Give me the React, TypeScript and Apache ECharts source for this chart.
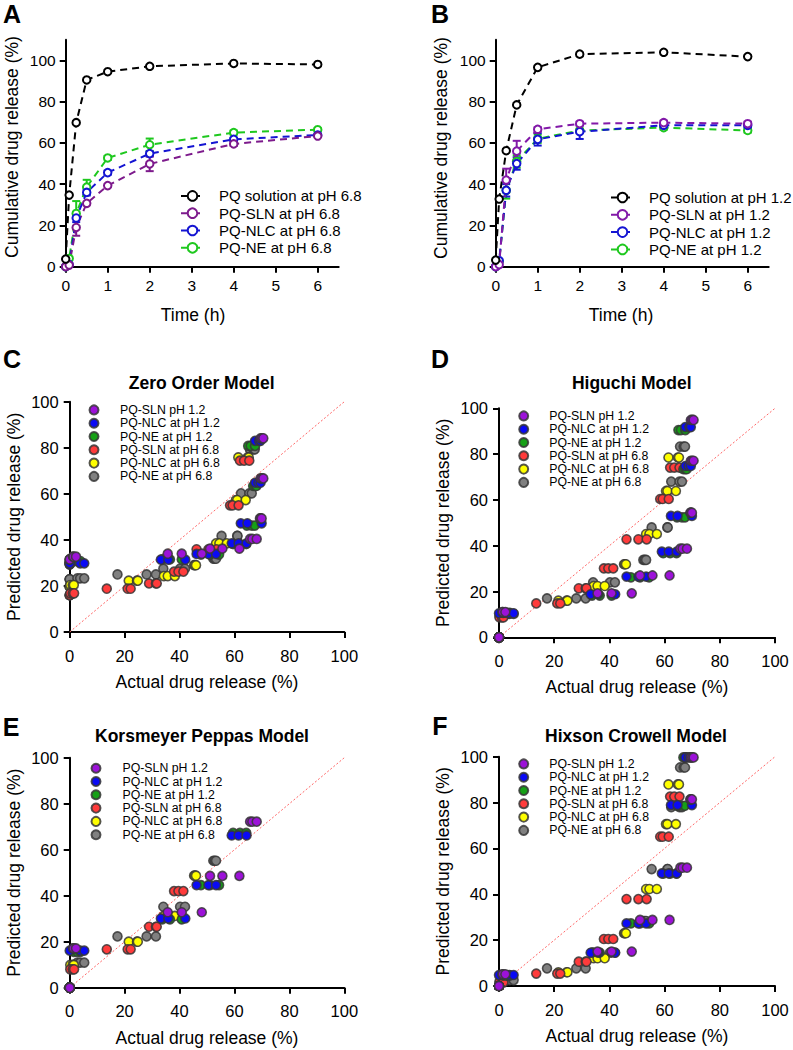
import React, { useEffect, useRef } from 'react';
import * as echarts from 'echarts';

const FONT = 'Liberation Sans, Arial, Helvetica, sans-serif';

// ---------- Panels A & B: cumulative release vs time ----------
const timeH = [0, 0.083, 0.25, 0.5, 1, 2, 4, 6];
const timeTicks = [0, 1, 2, 3, 4, 5, 6];
const releaseTicks = [0, 20, 40, 60, 80, 100];
const pctTicks = [0, 20, 40, 60, 80, 100];

const solutionPH68 = [3.7, 34.7, 69.8, 90.5, 94.5, 97.1, 98.5, 98.0];
const slnPH68 = [0, 0.8, 19.0, 30.7, 39.3, 49.8, 59.5, 63.3];
const nlcPH68 = [0, 1.0, 23.6, 36.0, 45.6, 54.8, 61.7, 63.8];
const nePH68 = [0, 4.0, 25.8, 38.6, 52.7, 59.1, 65.0, 66.4];
const slnPH68Err = [0, 0, 4.0, 0, 0, 3.5, 1.0, 0];
const nlcPH68Err = [0, 0, 2.0, 1.5, 1.0, 1.0, 0.8, 0.5];
const nePH68Err = [0, 0, 6.0, 3.5, 1.0, 3.0, 1.0, 0.5];

const solutionPH12 = [3.2, 32.8, 56.2, 78.4, 96.6, 103.0, 103.9, 101.8];
const slnPH12 = [0, 1.0, 42.0, 56.0, 66.6, 69.3, 69.8, 69.3];
const nlcPH12 = [0, 2.9, 37.0, 50.0, 61.7, 65.4, 68.5, 68.5];
const nePH12 = [0, 2.5, 37.0, 51.0, 62.0, 66.0, 67.4, 66.0];
const slnPH12Err = [0, 0, 5.5, 5.0, 1.0, 1.0, 1.0, 1.0];
const nlcPH12Err = [0, 0, 3.0, 3.0, 3.0, 3.5, 1.0, 1.0];
const nePH12Err = [0, 0, 4.0, 3.0, 2.0, 1.0, 1.0, 1.0];

// ---------- Panels C–F: actual replicates (per time point) ----------
const actSLN12 = [[0, 0, 0], [1.2, 1.4, 2.3], [35.7, 40.8, 48.1], [51.1, 55.6, 61.8], [65.7, 66.5, 68.1], [69.3, 69.5, 69.9], [69.5, 70.0, 70.5], [69.5, 70.0, 70.5]];
const actNLC12 = [[0, 0, 0], [0, 3.8, 5.3], [33.2, 35.9, 42.1], [46.2, 50.5, 53.3], [59.0, 61.5, 64.4], [62.3, 64.7, 69.9], [67.5, 68.7, 69.5], [67.5, 69.0, 69.5]];
const actNE12 = [[0, 0, 0], [1.5, 2.8, 3.9], [33.7, 36.5, 40.8], [47.8, 51.1, 54.4], [59.5, 62.0, 64.3], [64.5, 66.3, 67.4], [66.8, 67.5, 68.0], [65.0, 65.9, 67.5]];
const actSLN68 = [[0, 0, 0], [0.2, 1.1, 1.6], [13.5, 21.1, 22.2], [28.9, 31.4, 31.7], [38.0, 39.6, 41.4], [46.2, 50.5, 53.5], [58.4, 59.3, 61.5], [62.0, 63.5, 65.4]];
const actNLC68 = [[0, 0, 0], [0.2, 1.1, 1.5], [21.5, 24.5, 24.8], [34.3, 35.7, 38.3], [45.3, 45.6, 46.0], [53.3, 54.5, 57.2], [60.5, 61.0, 64.1], [61.4, 64.8, 65.2]];
const actNE68 = [[0, 0, 0], [2.8, 3.8, 5.3], [17.4, 28.0, 31.4], [34.1, 40.2, 42.0], [52.3, 52.8, 53.3], [55.3, 61.0, 61.1], [62.4, 65.4, 66.3], [65.6, 66.9, 67.4]];

// Predicted values per time point (null = not plotted)
// Zero order
const zeroSLN12 = [31.5, 32.7, 34.0, 36.2, 40.4, 49.3, 66.7, 84.1];
const zeroNLC12 = [29.4, 29.8, 31.4, 33.9, 38.5, 47.2, 64.8, 83.0];
const zeroNE12 = [30.3, 30.8, 31.5, 33.6, 38.2, 46.2, 63.4, 80.8];
const zeroSLN68 = [16.0, 16.8, 18.8, 21.1, 26.2, 35.9, 55.0, 74.4];
const zeroNLC68 = [19.7, 20.4, 22.3, 24.3, 29.0, 38.5, 57.3, 75.8];
const zeroNE68 = [22.9, 23.3, 25.0, 27.5, 31.8, 41.7, 60.2, 79.3];
// Higuchi
const higSLN12 = [0, 11.0, 19.2, 27.0, 38.7, 54.4, 77.1, 94.9];
const higNLC12 = [0, 10.5, 18.8, 26.5, 37.4, 53.0, 74.8, 91.8];
const higNE12 = [0, 10.7, 18.2, 26.2, 36.7, 52.4, 73.4, 90.5];
const higSLN68 = [0, 8.7, 14.8, 21.4, 30.1, 42.8, 60.4, 74.1];
const higNLC68 = [0, 9.2, 16.0, 22.4, 31.9, 45.1, 63.9, 78.5];
const higNE68 = [0, 10.2, 17.0, 24.0, 33.8, 48.0, 68.0, 83.3];
// Korsmeyer Peppas
const kpSLN12 = [0, 17.1, 32.8, 48.6, 72.2, null, null, null];
const kpNLC12 = [0, 16.1, 30.1, 44.6, 66.2, null, null, null];
const kpNE12 = [0, 15.6, 29.7, 44.6, 67.3, null, null, null];
const kpSLN68 = [0, 8.0, 16.7, 26.5, 42.0, null, null, null];
const kpNLC68 = [0, 9.9, 20.0, 31.2, 48.7, null, null, null];
const kpNE68 = [0, 10.9, 22.3, 35.2, 55.2, null, null, null];
// Hixson Crowell
const hcSLN12 = [0, 5.1, 15.0, 28.8, 51.6, 81.4, 99.7, null];
const hcNLC12 = [0, 4.8, 14.5, 27.3, 49.1, 78.9, 99.7, null];
const hcNE12 = [0, 4.5, 14.6, 27.3, 49.0, 78.6, 99.7, null];
const hcSLN68 = [0, 1.5, 5.4, 10.6, 20.5, 37.9, 65.1, 82.6];
const hcNLC68 = [0, 2.0, 6.0, 12.1, 23.0, 42.3, 70.6, 87.9];
const hcNE68 = [0, 2.6, 7.7, 14.6, 28.3, 51.0, 78.0, 95.3];

const scatterNames = ['PQ-SLN pH 1.2', 'PQ-NLC at pH 1.2', 'PQ-NE at pH 1.2', 'PQ-SLN at pH 6.8', 'PQ-NLC at pH 6.8', 'PQ-NE at pH 6.8'];
const scatterColors = ['#9c12d8', '#0a0af5', '#16a016', '#ff3b3b', '#ffff00', '#808080'];
const actuals = [actSLN12, actNLC12, actNE12, actSLN68, actNLC68, actNE68];
const models = [
  { title: 'Zero Order Model', preds: [zeroSLN12, zeroNLC12, zeroNE12, zeroSLN68, zeroNLC68, zeroNE68] },
  { title: 'Higuchi Model', preds: [higSLN12, higNLC12, higNE12, higSLN68, higNLC68, higNE68] },
  { title: 'Korsmeyer Peppas Model', preds: [kpSLN12, kpNLC12, kpNE12, kpSLN68, kpNLC68, kpNE68] },
  { title: 'Hixson Crowell Model', preds: [hcSLN12, hcNLC12, hcNE12, hcSLN68, hcNLC68, hcNE68] },
];

const grids = [
  { left: 65.7, top: 39.7, width: 273, height: 227 },
  { left: 495.7, top: 39.7, width: 273, height: 227 },
  { left: 69.7, top: 401.7, width: 274.6, height: 230.3 },
  { left: 499, top: 408.3, width: 276, height: 229 },
  { left: 69.7, top: 757.7, width: 274.6, height: 230 },
  { left: 499, top: 756.7, width: 276, height: 229.3 },
];
const titlePos = [
  { x: 201.7, y: 383 },
  { x: 631.7, y: 383 },
  { x: 202, y: 735.7 },
  { x: 636, y: 735.7 },
];
const letterPos = [
  { t: 'A', x: 12, y: 14 }, { t: 'B', x: 440, y: 14 },
  { t: 'C', x: 12, y: 359 }, { t: 'D', x: 440, y: 359 },
  { t: 'E', x: 11, y: 726.5 }, { t: 'F', x: 440, y: 726 },
];
const legendPos = [
  { left: 88.5, top: 403.4, pad: 16.5 },
  { left: 518.2, top: 409.4, pad: 16 },
  { left: 90.5, top: 761.7, pad: 17 },
  { left: 518.2, top: 757.4, pad: 16 },
];
// A/B axis titles (centre positions)
const abTitles = [
  { text: 'Cumulative drug release (%)', x: 12, y: 147, rot: true },
  { text: 'Time (h)', x: 193, y: 315, rot: false },
  { text: 'Cumulative drug release (%)', x: 441, y: 148, rot: true },
  { text: 'Time (h)', x: 621, y: 315, rot: false },
];

function axisCommon(fontSize: number, margin: number, ticks: number[]) {
  return {
    splitLine: { show: false },
    axisLine: { show: true, onZero: false, lineStyle: { color: '#000', width: 2 } },
    axisTick: { show: true, length: 6, lineStyle: { color: '#000', width: 2 }, customValues: ticks },
    axisLabel: { color: '#000', fontSize, fontFamily: FONT, margin, customValues: ticks },
    nameTextStyle: { color: '#000', fontSize: 17.5, fontFamily: FONT, fontWeight: 'normal' },
  };
}

function errorSeries(g: number, means: number[], errs: number[], color: string) {
  const data: number[][] = [];
  timeH.forEach((t, i) => {
    if (errs[i] > 0) data.push([t, means[i] - errs[i], means[i] + errs[i]]);
  });
  return {
    type: 'custom',
    xAxisIndex: g,
    yAxisIndex: g,
    silent: true,
    z: 1,
    encode: { x: 0, y: [1, 2] },
    data,
    renderItem: (_p: any, api: any) => {
      const x = api.value(0);
      const a = api.coord([x, api.value(1)]);
      const b = api.coord([x, api.value(2)]);
      const w = 4;
      const st = { stroke: color, lineWidth: 2 };
      return {
        type: 'group',
        children: [
          { type: 'line', shape: { x1: a[0], y1: a[1], x2: b[0], y2: b[1] }, style: st },
          { type: 'line', shape: { x1: a[0] - w, y1: a[1], x2: a[0] + w, y2: a[1] }, style: st },
          { type: 'line', shape: { x1: b[0] - w, y1: b[1], x2: b[0] + w, y2: b[1] }, style: st },
        ],
      };
    },
  };
}

function lineSeries(g: number, name: string, vals: number[], color: string) {
  return {
    type: 'line',
    name,
    xAxisIndex: g,
    yAxisIndex: g,
    data: timeH.map((t, i) => [t, vals[i]]),
    symbol: 'emptyCircle',
    symbolSize: 7.5,
    clip: false,
    z: 3,
    itemStyle: { color, borderColor: color, borderWidth: 2 },
    lineStyle: { color, width: 2, type: [7, 5] },
  };
}

function buildOption() {
  const xAxis: any[] = [];
  const yAxis: any[] = [];
  const series: any[] = [];
  const legend: any[] = [];
  const graphic: any[] = [];

  // A & B
  for (let g = 0; g < 2; g++) {
    xAxis.push({
      type: 'value', gridIndex: g, min: 0, max: 6.5, interval: 1,
      ...axisCommon(15.5, 11, timeTicks),
    });
    yAxis.push({
      type: 'value', gridIndex: g, min: 0, max: 110, interval: 20,
      ...axisCommon(15.5, 10, releaseTicks),
    });
  }
  abTitles.forEach((t) => {
    graphic.push({
      type: 'text', x: t.x, y: t.y, rotation: t.rot ? Math.PI / 2 : 0,
      style: { text: t.text, font: `normal 17.5px ${FONT}`, fill: '#000', textAlign: 'center', textVerticalAlign: 'middle' },
    });
  });
  const setA = [
    { n: 'A|PQ solution at pH 6.8', v: solutionPH68, e: null, c: '#000000' },
    { n: 'A|PQ-SLN at pH 6.8', v: slnPH68, e: slnPH68Err, c: '#7d1a8c' },
    { n: 'A|PQ-NLC at pH 6.8', v: nlcPH68, e: nlcPH68Err, c: '#1414d2' },
    { n: 'A|PQ-NE at pH 6.8', v: nePH68, e: nePH68Err, c: '#1ec81e' },
  ];
  const setB = [
    { n: 'B|PQ solution at pH 1.2', v: solutionPH12, e: null, c: '#000000' },
    { n: 'B|PQ-SLN at pH 1.2', v: slnPH12, e: slnPH12Err, c: '#8219a8' },
    { n: 'B|PQ-NLC at pH 1.2', v: nlcPH12, e: nlcPH12Err, c: '#1414d2' },
    { n: 'B|PQ-NE at pH 1.2', v: nePH12, e: nePH12Err, c: '#1ec81e' },
  ];
  [setA, setB].forEach((set, g) => {
    set.slice().reverse().forEach((s) => {
      if (s.e) series.push(errorSeries(g, s.v, s.e, s.c));
      series.push(lineSeries(g, s.n, s.v, s.c));
    });
    legend.push({
      orient: 'vertical',
      left: g === 0 ? 180 : 610,
      top: g === 0 ? 187.4 : 189,
      padding: 0,
      itemWidth: 23,
      itemHeight: 12,
      itemGap: 0.3,
      selectedMode: false,
      data: set.map((s) => s.n),
      formatter: (n: string) => n.slice(2),
      textStyle: { color: '#000', fontSize: 15, fontFamily: FONT, lineHeight: 17, padding: [0, 0, 0, 10] },
    });
  });

  // C–F
  const drawOrder = [5, 4, 3, 2, 1, 0];
  models.forEach((m, k) => {
    const g = k + 2;
    xAxis.push({
      type: 'value', gridIndex: g, min: 0, max: 100, interval: 20,
      name: 'Actual drug release (%)', nameLocation: 'middle', nameGap: 41,
      ...axisCommon(16.5, 15, pctTicks),
    });
    yAxis.push({
      type: 'value', gridIndex: g, min: 0, max: 100, interval: 20,
      name: 'Predicted drug release (%)', nameLocation: 'middle', nameGap: 47,
      ...axisCommon(16.5, 11, pctTicks),
    });
    series.push({
      type: 'line', xAxisIndex: g, yAxisIndex: g, silent: true, z: 1,
      data: [[0, 0], [100, 100]], symbol: 'none',
      lineStyle: { color: '#ff6666', width: 1, type: [2, 2] },
    });
    drawOrder.forEach((j) => {
      const pts: number[][] = [];
      m.preds[j].forEach((y, i) => {
        if (y == null) return;
        actuals[j][i].forEach((x) => pts.push([x, y as number]));
      });
      series.push({
        type: 'scatter', name: scatterNames[j], xAxisIndex: g, yAxisIndex: g,
        data: pts, symbol: 'circle', symbolSize: 9, clip: false, z: 3,
        itemStyle: { color: scatterColors[j], borderColor: 'rgba(55,55,55,0.85)', borderWidth: 1.6, opacity: 1 },
      });
    });
    const lp = legendPos[k];
    legend.push({
      orient: 'vertical', left: lp.left, top: lp.top, padding: 0,
      itemWidth: 9, itemHeight: 9, itemGap: 0.3, selectedMode: false,
      data: scatterNames,
      textStyle: { color: '#000', fontSize: 12.3, fontFamily: FONT, lineHeight: 13, padding: [0, 0, 0, lp.pad] },
    });
    graphic.push({
      type: 'text', x: titlePos[k].x, y: titlePos[k].y,
      style: { text: m.title, font: `bold 17.5px ${FONT}`, fill: '#000', textAlign: 'center', textVerticalAlign: 'middle' },
    });
  });

  letterPos.forEach((l) => {
    graphic.push({
      type: 'text', x: l.x, y: l.y,
      style: { text: l.t, font: `bold 25px ${FONT}`, fill: '#000', textAlign: 'center', textVerticalAlign: 'middle' },
    });
  });

  return {
    animation: false,
    backgroundColor: '#ffffff',
    textStyle: { fontFamily: FONT },
    grid: grids,
    xAxis,
    yAxis,
    legend,
    series,
    graphic,
  };
}

export default function App() {
  const ref = useRef<HTMLDivElement>(null);
  useEffect(() => {
    const chart = echarts.init(ref.current!, null, { renderer: 'svg' });
    chart.setOption(buildOption() as any);
    return () => chart.dispose();
  }, []);
  return (
    <div
      ref={ref}
      style={{ position: 'absolute', left: 0, top: 0, width: 793, height: 1050, background: '#fff' }}
    />
  );
}
